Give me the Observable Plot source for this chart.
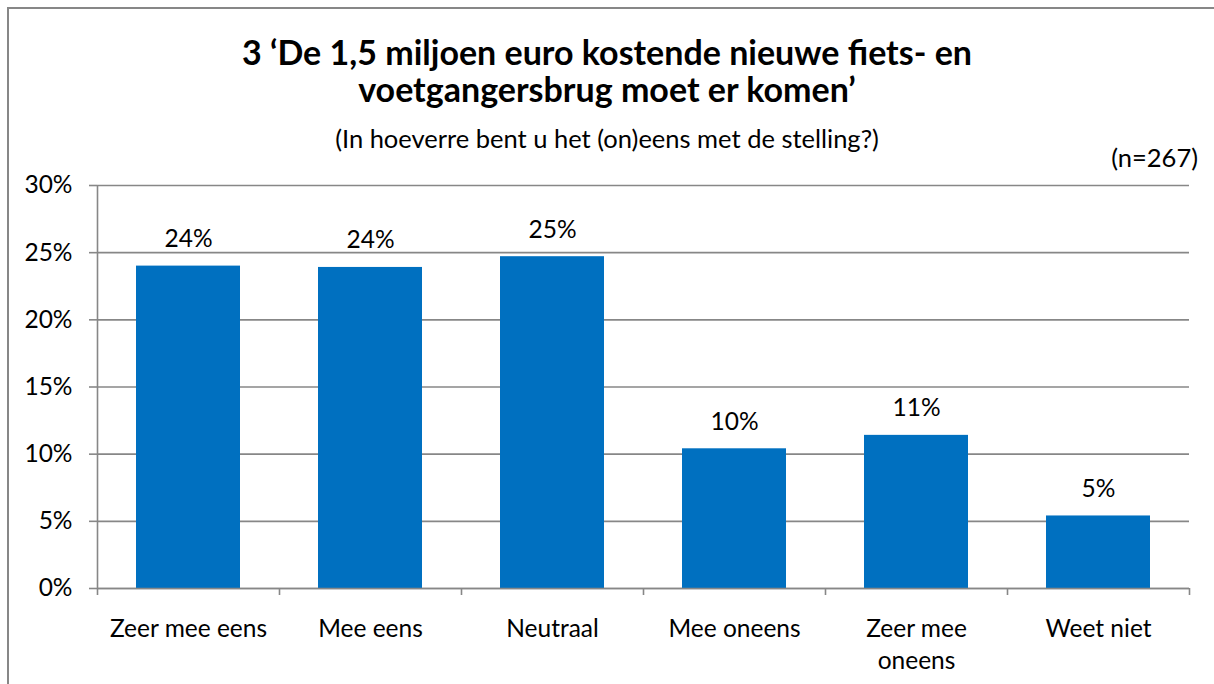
<!DOCTYPE html>
<html>
<head>
<meta charset="utf-8">
<script src="https://cdn.jsdelivr.net/npm/d3@7"></script>
<script src="https://cdn.jsdelivr.net/npm/@observablehq/plot@0.6"></script>
<style>
  html, body { margin: 0; padding: 0; background: #fff; }
  #wrap { position: relative; width: 1214px; height: 684px; overflow: hidden; font-family: Lato, "Open Sans", sans-serif; color: #000; }
  #border { position: absolute; left: 7px; top: 7px; width: 1220px; height: 700px; border-left: 2px solid #878787; border-top: 2px solid #878787; box-sizing: border-box; }
  .hdr { position: absolute; white-space: nowrap; }
  #title { left: 0; width: 1214px; top: 33px; text-align: center; font-weight: 700; font-size: 34px; line-height: 37px; }
  #subtitle { left: 0; width: 1214px; top: 123px; text-align: center; font-size: 25.5px; line-height: 30.6px; }
  #n { right: 16px; top: 142px; font-size: 25.5px; line-height: 30.6px; }
  #chart { position: absolute; left: 0; top: 0; }
</style>
</head>
<body>
<div id="wrap">
  <div id="border"></div>
  <div id="chart"></div>
  <div class="hdr" id="title">3 ‘De 1,5 miljoen euro kostende nieuwe fiets- en<br>voetgangersbrug moet er komen’</div>
  <div class="hdr" id="subtitle">(In hoeverre bent u het (on)eens met de stelling?)</div>
  <div class="hdr" id="n">(n=267)</div>
</div>
<script>
const categories = ["Zeer mee eens", "Mee eens", "Neutraal", "Mee oneens", "Zeer mee oneens", "Weet niet"];
const axisLabels = ["Zeer mee eens", "Mee eens", "Neutraal", "Mee oneens", "Zeer mee\noneens", "Weet niet"];
const values = [24.0, 23.9, 24.7, 10.4, 11.4, 5.4];
const valueLabels = ["24%", "24%", "25%", "10%", "11%", "5%"];
const yTicks = [0, 5, 10, 15, 20, 25, 30];

const data = categories.map((c, i) => ({category: c, value: values[i], label: valueLabels[i]}));

const W = 1214, H = 684, mL = 97, mR = 25, mT = 185, mB = 96;
const step = (W - mL - mR) / categories.length;
const gray = "#878787";
const fs = 24.5;

const chart = Plot.plot({
  width: W,
  height: H,
  marginLeft: mL,
  marginRight: mR,
  marginTop: mT,
  marginBottom: mB,
  style: {fontFamily: "Lato, 'Open Sans', sans-serif", fontSize: fs + "px", color: "#000", background: "transparent", overflow: "visible"},
  x: {domain: categories, paddingInner: 0.43, paddingOuter: 0.215},
  y: {domain: [0, 30]},
  marks: [
    Plot.gridY(yTicks, {stroke: gray, strokeOpacity: 1, strokeWidth: 1.6}),
    Plot.axisY(yTicks, {tickSize: 8, tickPadding: 17, tickFormat: d => d + "%", stroke: gray, strokeWidth: 1.6, fontSize: fs, label: null}),
    Plot.barY(data, {x: "category", y: "value", fill: "#0070C0"}),
    Plot.ruleY([0], {stroke: gray, strokeWidth: 1.6}),
    Plot.ruleX([categories[0]], {dx: -step / 2, y1: 0, y2: 30, stroke: gray, strokeWidth: 1.6}),
    Plot.ruleX(categories, {dx: -step / 2, y1: 0, y2: 0, insetBottom: -7, stroke: gray, strokeWidth: 1.6}),
    Plot.ruleX([categories[categories.length - 1]], {dx: step / 2, y1: 0, y2: 0, insetBottom: -7, stroke: gray, strokeWidth: 1.6}),
    Plot.text(data, {x: "category", y: "value", text: "label", dy: -19, lineAnchor: "bottom", fontSize: fs, fill: "#000"}),
    Plot.axisX({tickSize: 0, tickPadding: 26, tickFormat: d => axisLabels[categories.indexOf(d)], lineHeight: 1.29, fontSize: fs, label: null})
  ]
});
document.getElementById("chart").appendChild(chart);
</script>
</body>
</html>
